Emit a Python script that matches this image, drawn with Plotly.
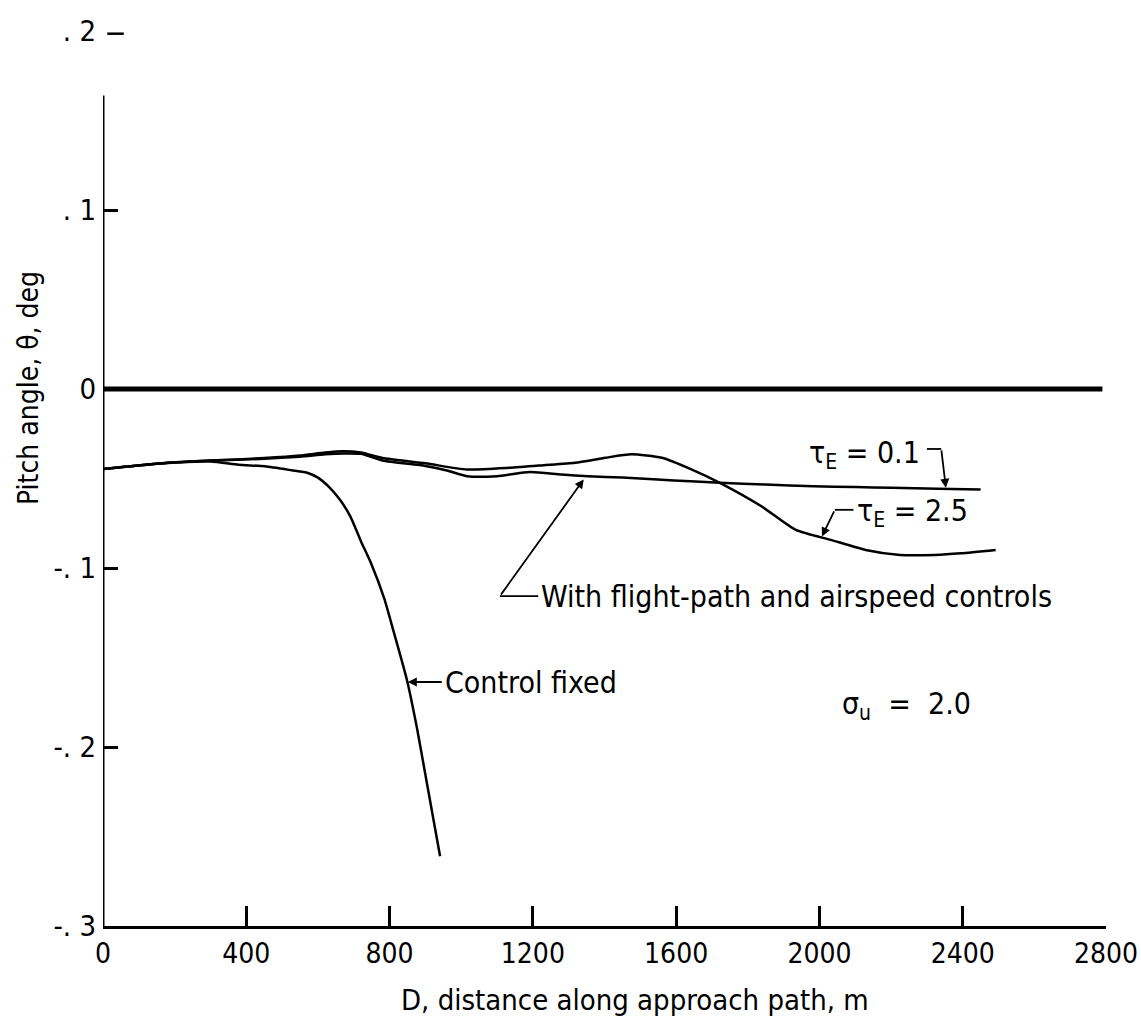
import plotly.graph_objects as go

# ---- data ----
dist_tau01 = [0, 150, 300, 450, 550, 620, 670, 720, 780, 900, 960, 1016, 1100, 1192, 1280, 1354,
              1450, 1548, 1640, 1722, 1850, 1983, 2100, 2200, 2330, 2450]
theta_tau01 = [-0.0447, -0.0417, -0.0400, -0.0390, -0.0378, -0.0365, -0.0360, -0.0362, -0.0399, -0.0430,
               -0.0455, -0.0487, -0.0487, -0.0464, -0.0478, -0.0487, -0.0495, -0.0506, -0.0515, -0.0524,
               -0.0534, -0.0543, -0.0548, -0.0552, -0.0557, -0.0562]

dist_tau25 = [0, 150, 300, 450, 550, 620, 670, 720, 780, 900, 1016, 1136, 1230, 1318, 1403, 1475,
              1560, 1644, 1722, 1838, 1934, 2032, 2129, 2225, 2322, 2395, 2492]
theta_tau25 = [-0.0447, -0.0417, -0.0400, -0.0386, -0.0372, -0.0355, -0.0348, -0.0355, -0.0385, -0.0415,
               -0.0450, -0.0440, -0.0426, -0.0412, -0.0384, -0.0365, -0.0384, -0.0450, -0.0524, -0.0655,
               -0.0787, -0.0843, -0.0899, -0.0927, -0.0927, -0.0918, -0.0899]

dist_fixed = [0, 150, 300, 378, 452, 526, 572, 600, 630, 660, 690, 720, 748, 785, 812, 849, 877, 904, 941]
theta_fixed = [-0.0447, -0.0417, -0.0405, -0.0423, -0.0432, -0.0454, -0.0469, -0.0495, -0.0545, -0.0615,
               -0.0710, -0.0850, -0.0972, -0.117, -0.136, -0.163, -0.190, -0.220, -0.261]

dist_zero = [0, 2790]
theta_zero = [0.0, 0.0]

x_ticks = [0, 400, 800, 1200, 1600, 2000, 2400, 2800]
x_ticktext = ["0", "400", "800", "1200", "1600", "2000", "2400", "2800"]
y_ticks = [0.1999, 0.1, 0.0, -0.1, -0.2, -0.3]
y_ticktext = [". 2", ". 1", "0", "-. 1", "-. 2", "-. 3"]

FONT = "Liberation Sans Narrow, Arial Narrow, DejaVu Sans Condensed, sans-serif"
W, H = 1141, 1025
L, R, T, B = 103, 35, 31, 99

fig = go.Figure()
fig.add_trace(go.Scatter(x=dist_zero, y=theta_zero, mode="lines",
                         line=dict(color="black", width=5), showlegend=False))
for xs, ys in [(dist_tau01, theta_tau01), (dist_tau25, theta_tau25), (dist_fixed, theta_fixed)]:
    fig.add_trace(go.Scatter(x=xs, y=ys, mode="lines",
                             line=dict(color="black", width=2.5, shape="spline", smoothing=0.6),
                             showlegend=False))

# y axis line (stops below the .2 tick, as in the original)
fig.add_shape(type="line", xref="x", yref="y", x0=0, x1=0, y0=-0.3, y1=0.164,
              line=dict(color="black", width=3))
# detached tick mark beside the ".2" label
fig.add_shape(type="line", xref="x", yref="y", x0=12, x1=58, y0=0.1985, y1=0.1985,
              line=dict(color="black", width=2.5))

ann_font = dict(family=FONT, size=30, color="black")

# tau_E = 0.1
fig.add_annotation(x=1965, y=-0.0365, xref="x", yref="y", text="τ<sub>E</sub> = 0.1",
                   showarrow=False, xanchor="left", yanchor="middle", font=ann_font)
fig.add_shape(type="line", xref="x", yref="y", x0=2300, x1=2340, y0=-0.0335, y1=-0.0335,
              line=dict(color="black", width=1.8))
fig.add_annotation(x=2353, y=-0.0552, ax=2340, ay=-0.0335, xref="x", yref="y", axref="x", ayref="y",
                   text="", showarrow=True, arrowhead=2, arrowsize=1, arrowwidth=1.8, arrowcolor="black")

# tau_E = 2.5
fig.add_annotation(x=2098, y=-0.069, xref="x", yref="y", text="τ<sub>E</sub> = 2.5",
                   showarrow=False, xanchor="left", yanchor="middle", font=ann_font)
fig.add_shape(type="line", xref="x", yref="y", x0=2043, x1=2095, y0=-0.0675, y1=-0.0675,
              line=dict(color="black", width=1.8))
fig.add_annotation(x=2007, y=-0.0824, ax=2043, ay=-0.0675, xref="x", yref="y", axref="x", ayref="y",
                   text="", showarrow=True, arrowhead=2, arrowsize=1, arrowwidth=1.8, arrowcolor="black")

# With flight-path and airspeed controls
fig.add_annotation(x=1218, y=-0.1157, xref="x", yref="y", text="With flight-path and airspeed controls",
                   showarrow=False, xanchor="left", yanchor="middle", font=ann_font)
fig.add_shape(type="line", xref="x", yref="y", x0=1108, x1=1215, y0=-0.1157, y1=-0.1157,
              line=dict(color="black", width=1.8))
fig.add_annotation(x=1342, y=-0.0505, ax=1108, ay=-0.1157, xref="x", yref="y", axref="x", ayref="y",
                   text="", showarrow=True, arrowhead=2, arrowsize=1, arrowwidth=1.8, arrowcolor="black")

# Control fixed
fig.add_annotation(x=950, y=-0.1637, xref="x", yref="y", text="Control fixed",
                   showarrow=False, xanchor="left", yanchor="middle", font=ann_font)
fig.add_annotation(x=851, y=-0.1637, ax=950, ay=-0.1637, xref="x", yref="y", axref="x", ayref="y",
                   text="", showarrow=True, arrowhead=2, arrowsize=1, arrowwidth=1.8, arrowcolor="black")

# sigma_u = 2.0
fig.add_annotation(x=2058, y=-0.177, xref="x", yref="y", text="σ<sub>u</sub>  =  2.0",
                   showarrow=False, xanchor="left", yanchor="middle", font=ann_font)

# axis titles
fig.add_annotation(x=(29 - L) / (W - L - R), y=(H - B - 388) / (H - T - B), xref="paper", yref="paper",
                   text="Pitch angle, θ, deg", textangle=-90, showarrow=False,
                   xanchor="center", yanchor="middle", font=dict(family=FONT, size=28, color="black"))
fig.add_annotation(x=(635 - L) / (W - L - R), y=-(1000 - (H - B)) / (H - T - B), xref="paper", yref="paper",
                   text="D, distance along approach path, m", showarrow=False,
                   xanchor="center", yanchor="middle", font=dict(family=FONT, size=29, color="black"))

fig.update_xaxes(range=[0, 2800], tickvals=x_ticks, ticktext=x_ticktext, ticks="inside",
                 ticklen=20, tickwidth=2.5, tickcolor="black", showline=True, linewidth=3,
                 linecolor="black", showgrid=False, zeroline=False,
                 tickfont=dict(family=FONT, size=28, color="black"))
fig.update_yaxes(range=[-0.3, 0.2], tickvals=y_ticks, ticktext=y_ticktext, ticks="inside",
                 ticklen=15, tickwidth=2.5, tickcolor="black", showline=False, showgrid=False,
                 zeroline=False, ticklabelstandoff=6, tickfont=dict(family=FONT, size=29, color="black"))

fig.update_layout(width=W, height=H, margin=dict(l=L, r=R, t=T, b=B, autoexpand=False),
                  paper_bgcolor="white", plot_bgcolor="white", showlegend=False)

fig.write_html("out.html")
